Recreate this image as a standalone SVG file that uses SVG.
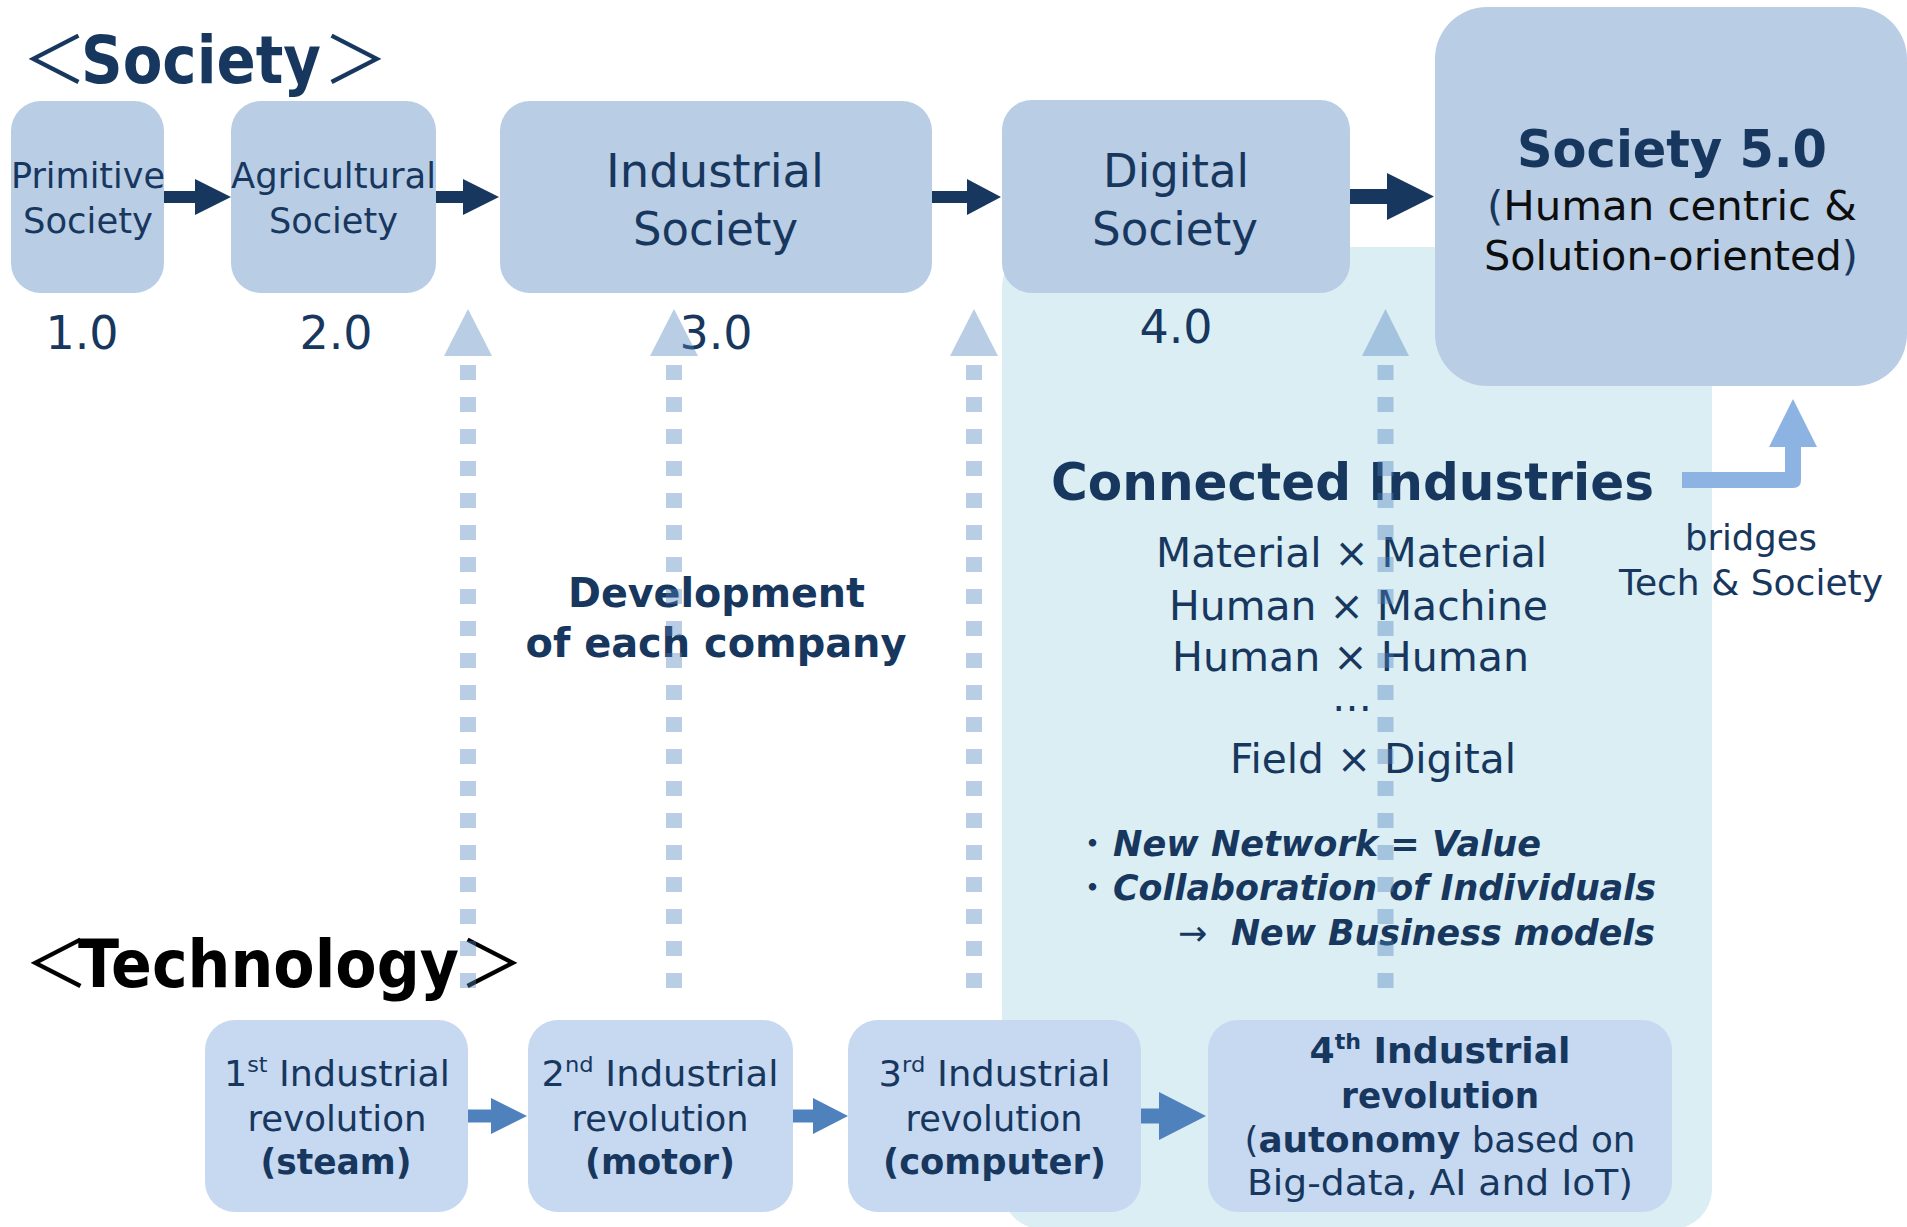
<svg xmlns="http://www.w3.org/2000/svg" width="1907" height="1227" viewBox="0 0 1907 1227">
<style>
text{font-family:"DejaVu Sans",Verdana,sans-serif;fill:#17375e}
.m{text-anchor:middle}
.b{font-weight:bold}
.bi{font-weight:bold;font-style:italic}
.br{font-family:"Noto Sans CJK JP",sans-serif;font-weight:normal}
.sn{fill:#b9cde5}
.tn{fill:#c6d9f1}
.da{fill:#17375e}
.ta{fill:#4f81bd}
.dot polygon{fill:#4f81bd;fill-opacity:.4}
.dot line{stroke:#4f81bd;stroke-opacity:.4;stroke-width:16;stroke-dasharray:15 17}
.s35{font-size:35px}.s36{font-size:36px}.s40{font-size:40px}.s46{font-size:46px}
</style>
<rect width="1907" height="1227" fill="#ffffff"/>
<rect id="panel" x="1002" y="247" width="710" height="982" rx="40" fill="#daeef3"/>

<text id="title-society" class="b" y="83" font-size="66"><tspan class="br" x="22" font-size="65">＜</tspan><tspan x="81" textLength="240" lengthAdjust="spacingAndGlyphs">Society</tspan><tspan class="br" x="323" font-size="65">＞</tspan></text>

<g id="primitive"><rect class="sn" x="11" y="101" width="153" height="192" rx="30"/>
<text class="m s35" x="88" y="188" textLength="154" lengthAdjust="spacingAndGlyphs">Primitive</text>
<text class="m s35" x="88" y="233" textLength="130" lengthAdjust="spacingAndGlyphs">Society</text>
<text class="m s46" x="82" y="349">1.0</text></g>

<g id="agricultural"><rect class="sn" x="231" y="101" width="205" height="192" rx="30"/>
<text class="m s35" x="333.5" y="188" textLength="205" lengthAdjust="spacingAndGlyphs">Agricultural</text>
<text class="m s35" x="333.5" y="233" textLength="129" lengthAdjust="spacingAndGlyphs">Society</text>
<text class="m s46" x="336" y="349">2.0</text></g>

<g id="industrial"><rect class="sn" x="500" y="101" width="432" height="192" rx="30"/>
<text class="m s46" x="715" y="187" textLength="218" lengthAdjust="spacingAndGlyphs">Industrial</text>
<text class="m s46" x="715.5" y="245" textLength="165" lengthAdjust="spacingAndGlyphs">Society</text>
<text class="m s46" x="716" y="349">3.0</text></g>

<g id="digital"><rect class="sn" x="1002" y="100" width="348" height="193" rx="30"/>
<text class="m s46" x="1176" y="187" textLength="146" lengthAdjust="spacingAndGlyphs">Digital</text>
<text class="m s46" x="1175" y="245" textLength="166" lengthAdjust="spacingAndGlyphs">Society</text>
<text class="m s46" x="1176" y="343">4.0</text></g>

<g id="society5"><rect class="sn" x="1435" y="7" width="472" height="379" rx="52"/>
<text class="m b" x="1672" y="167" font-size="51" textLength="310" lengthAdjust="spacingAndGlyphs">Society 5.0</text>
<text class="m s40" x="1672" y="220" textLength="370" lengthAdjust="spacingAndGlyphs">(<tspan style="fill:#0d0d0d">Human centric &amp;</tspan></text>
<text class="m s40" x="1671" y="270" textLength="374" lengthAdjust="spacingAndGlyphs"><tspan style="fill:#0d0d0d">Solution-oriented</tspan>)</text></g>

<text id="title-technology" class="b" y="987" font-size="66" style="fill:#000"><tspan class="br" x="24" font-size="65" style="fill:#000">＜</tspan><tspan x="78" textLength="381" lengthAdjust="spacingAndGlyphs" style="fill:#000">Technology</tspan><tspan class="br" x="459" font-size="65" style="fill:#000">＞</tspan></text>

<g id="tech1"><rect class="tn" x="205" y="1020" width="263" height="192" rx="30"/>
<text class="m s36" x="337" y="1086" textLength="226" lengthAdjust="spacingAndGlyphs">1<tspan font-size="22" dy="-14">st</tspan><tspan dy="14"> Industrial</tspan></text>
<text class="m s36" x="337" y="1131" textLength="179" lengthAdjust="spacingAndGlyphs">revolution</text>
<text class="m s36 b" x="336" y="1174" textLength="151" lengthAdjust="spacingAndGlyphs">(steam)</text></g>

<g id="tech2"><rect class="tn" x="528" y="1020" width="265" height="192" rx="30"/>
<text class="m s36" x="660" y="1086" textLength="237" lengthAdjust="spacingAndGlyphs">2<tspan font-size="22" dy="-14">nd</tspan><tspan dy="14"> Industrial</tspan></text>
<text class="m s36" x="660" y="1131" textLength="177" lengthAdjust="spacingAndGlyphs">revolution</text>
<text class="m s36 b" x="660" y="1174" textLength="150" lengthAdjust="spacingAndGlyphs">(motor)</text></g>

<g id="tech3"><rect class="tn" x="848" y="1020" width="293" height="192" rx="30"/>
<text class="m s36" x="994.5" y="1086" textLength="232" lengthAdjust="spacingAndGlyphs">3<tspan font-size="22" dy="-14">rd</tspan><tspan dy="14"> Industrial</tspan></text>
<text class="m s36" x="994" y="1131" textLength="177" lengthAdjust="spacingAndGlyphs">revolution</text>
<text class="m s36 b" x="994.5" y="1174" textLength="223" lengthAdjust="spacingAndGlyphs">(computer)</text></g>

<g id="tech4"><rect class="tn" x="1208" y="1020" width="464" height="192" rx="30"/>
<text class="m s36 b" x="1440" y="1063" textLength="261" lengthAdjust="spacingAndGlyphs">4<tspan font-size="22" dy="-14">th</tspan><tspan dy="14"> Industrial</tspan></text>
<text class="m s36 b" x="1440" y="1108" textLength="198" lengthAdjust="spacingAndGlyphs">revolution</text>
<text class="m s36" x="1440" y="1152" textLength="391" lengthAdjust="spacingAndGlyphs">(<tspan class="b">autonomy</tspan> based on</text>
<text class="m s36" x="1440" y="1195" textLength="386" lengthAdjust="spacingAndGlyphs">Big-data, AI and IoT)</text></g>

<g id="development">
<text class="m b" x="716.5" y="607" font-size="40" textLength="297" lengthAdjust="spacingAndGlyphs">Development</text>
<text class="m b" x="716" y="657" font-size="40" textLength="381" lengthAdjust="spacingAndGlyphs">of each company</text></g>

<g id="connected-industries">
<text class="m b" x="1352.5" y="500" font-size="51" textLength="603" lengthAdjust="spacingAndGlyphs">Connected Industries</text>
<text class="s40" x="1156" y="567" textLength="391" lengthAdjust="spacingAndGlyphs">Material × Material</text>
<text class="s40" x="1169" y="620" textLength="379" lengthAdjust="spacingAndGlyphs">Human × Machine</text>
<text class="s40" x="1172" y="671" textLength="357" lengthAdjust="spacingAndGlyphs">Human × Human</text>
<text class="m s40" x="1352" y="711">…</text>
<text class="s40" x="1230" y="773" textLength="286" lengthAdjust="spacingAndGlyphs">Field × Digital</text>
<text class="s35" y="856"><tspan class="br" x="1075">・</tspan><tspan class="bi" x="1113" textLength="428" lengthAdjust="spacingAndGlyphs">New Network = Value</tspan></text>
<text class="s35" y="900"><tspan class="br" x="1075">・</tspan><tspan class="bi" x="1113" textLength="543" lengthAdjust="spacingAndGlyphs">Collaboration of Individuals</tspan></text>
<text class="s35" y="945"><tspan x="1178">→</tspan><tspan class="bi" x="1231" textLength="424" lengthAdjust="spacingAndGlyphs">New Business models</tspan></text>
</g>

<g id="bridges-label">
<text class="m s35" x="1751" y="550" textLength="132" lengthAdjust="spacingAndGlyphs">bridges</text>
<text class="m s35" x="1751" y="595" textLength="264" lengthAdjust="spacingAndGlyphs">Tech &amp; Society</text></g>

<g id="connectors">
<polygon class="da" points="164,191 195,191 195,179 231,197 195,215 195,203 164,203"/>
<polygon class="da" points="436,191 463,191 463,179 499,197 463,215 463,203 436,203"/>
<polygon class="da" points="932,191 967,191 967,179 1001,197 967,215 967,203 932,203"/>
<polygon class="da" points="1350,189 1387,189 1387,173 1434,196.5 1387,220 1387,204 1350,204"/>
<polygon class="ta" points="468,1109.5 491,1109.5 491,1098 527,1116 491,1134 491,1122.5 468,1122.5"/>
<polygon class="ta" points="793,1109.5 813,1109.5 813,1098 848,1116 813,1134 813,1122.5 793,1122.5"/>
<polygon class="ta" points="1141,1108.5 1159,1108.5 1159,1092 1206,1116 1159,1140 1159,1123.5 1141,1123.5"/>
<path fill="#8db3e2" d="M1682,472 H1785 V447 H1769 L1793,399 L1817,447 H1801 V480 Q1801,488 1793,488 H1682 Z"/>
<g class="dot"><polygon points="444,356 468,309 492,356"/><line x1="468" y1="365" x2="468" y2="988"/></g>
<g class="dot"><polygon points="650,356 674,309 698,356"/><line x1="674" y1="365" x2="674" y2="988"/></g>
<g class="dot"><polygon points="950,356 974,309 998,356"/><line x1="974" y1="365" x2="974" y2="988"/></g>
<g class="dot"><polygon points="1362,356 1385.5,309 1409,356"/><line x1="1385.5" y1="365" x2="1385.5" y2="988"/></g>
</g>
</svg>
